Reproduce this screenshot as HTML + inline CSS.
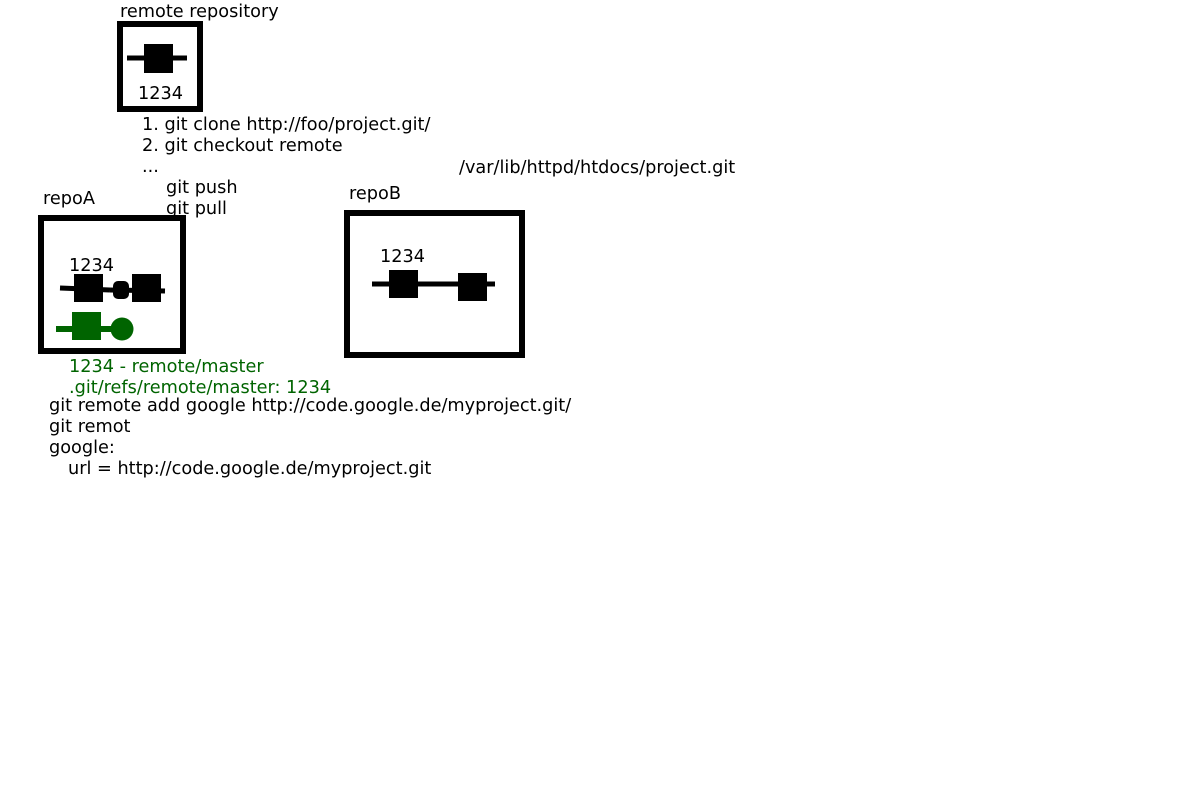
<!DOCTYPE html>
<html><head><meta charset="utf-8"><style>
html,body{margin:0;padding:0;background:#fff;width:1200px;height:800px;overflow:hidden}
svg text{font-family:"DejaVu Sans","Liberation Sans",sans-serif;font-size:17.7px;fill:#000}
.g{fill:#006400}
</style></head><body>
<svg width="1200" height="800" xmlns="http://www.w3.org/2000/svg">
<rect x="120" y="24" width="80" height="85" fill="none" stroke="#000" stroke-width="6"/>
<line x1="127" y1="58" x2="187" y2="58" stroke="#000" stroke-width="5"/>
<rect x="144" y="44" width="29" height="29" fill="#000"/>
<text x="138" y="99">1234</text>

<rect x="41" y="218" width="142" height="133" fill="none" stroke="#000" stroke-width="6"/>
<line x1="60" y1="288" x2="110" y2="290" stroke="#000" stroke-width="5"/>
<line x1="110" y1="290" x2="165" y2="291" stroke="#000" stroke-width="5"/>
<rect x="74" y="274" width="29" height="28" fill="#000"/>
<rect x="113" y="281" width="16" height="18" rx="5" fill="#000"/>
<rect x="132" y="274" width="29" height="28" fill="#000"/>
<line x1="56" y1="329" x2="118" y2="329" stroke="#006400" stroke-width="6"/>
<rect x="72" y="312" width="29" height="28" fill="#006400"/>
<circle cx="122" cy="329" r="11.5" fill="#006400"/>
<text x="69" y="271">1234</text>

<rect x="347" y="213" width="175" height="142" fill="none" stroke="#000" stroke-width="6"/>
<line x1="372" y1="284" x2="495" y2="284" stroke="#000" stroke-width="5"/>
<rect x="389" y="270" width="29" height="28" fill="#000"/>
<rect x="458" y="273" width="29" height="28" fill="#000"/>
<text x="380" y="262">1234</text>

<text x="120" y="17">remote repository</text>
<text x="142" y="130">1. git clone http://foo/project.git/</text>
<text x="142" y="151">2. git checkout remote</text>
<text x="142" y="172">...</text>
<text x="166" y="193">git push</text>
<text x="166" y="214">git pull</text>
<text x="459" y="173">/var/lib/httpd/htdocs/project.git</text>
<text x="43" y="204">repoA</text>
<text x="349" y="199">repoB</text>
<text x="69" y="372" class="g">1234 - remote/master</text>
<text x="69" y="393" class="g">.git/refs/remote/master: 1234</text>
<text x="49" y="411">git remote add google http://code.google.de/myproject.git/</text>
<text x="49" y="432">git remot</text>
<text x="49" y="453">google:</text>
<text x="68" y="474">url = http://code.google.de/myproject.git</text>
</svg>
</body></html>
